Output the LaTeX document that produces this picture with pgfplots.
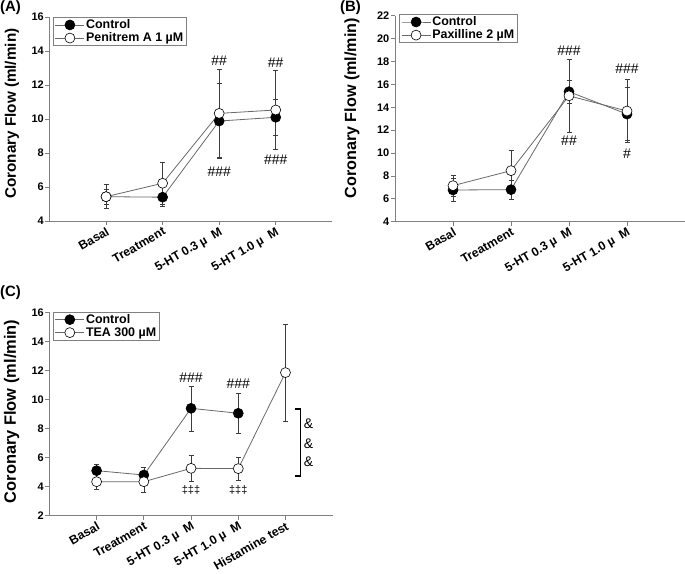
\documentclass[border=0pt]{standalone}
\usepackage{pgfplots}
\pgfplotsset{compat=1.18}
\usepackage{fontspec}
\setmainfont{Liberation Sans}
\definecolor{axgray}{RGB}{128,128,128}
\definecolor{lngray}{RGB}{105,105,105}
\definecolor{ebgray}{RGB}{60,60,60}
\newcommand{\fs}[1]{\fontsize{#1}{#1}\selectfont}
\newcommand{\lgf}{\fontsize{12.5}{12.5}\selectfont\bfseries}
\newcommand{\xlf}{\fontsize{12.3}{12.3}\selectfont\bfseries}
\newcommand{\ylf}{\fontsize{11}{11}\selectfont\bfseries}
\pgfplotsset{
  panel/.style={
    scale only axis,
    axis lines=left,
    axis line style={-, draw=axgray, line width=0.9bp},
    tick align=outside,
    major tick length=4bp,
    tick style={draw=axgray, line width=0.8bp},
    xmin=0,
    clip=false,
    /pgf/number format/assume math mode=true,
    yticklabel style={font=\ylf, inner sep=1.5bp},
    xticklabel style={font=\xlf, rotate=30, anchor=north east, inner sep=1bp},
    legend cell align=left,
    legend style={draw=axgray, line width=0.8bp, font=\lgf, fill=white,
      inner xsep=2bp, inner ysep=1bp, anchor=north west, row sep=0bp,
      nodes={inner sep=1.3bp}},
    legend image code/.code={\draw[mark repeat=2, mark phase=2, ##1] plot coordinates {(0bp,0bp) (14.5bp,0bp) (29bp,0bp)};},
    error bars/error bar style={draw=ebgray, line width=0.6bp},
    error bars/error mark options={rotate=90, mark size=2.5bp, draw=ebgray, line width=0.6bp},
  },
  ctrl/.style={draw=lngray, line width=0.8bp, mark=*, mark size=5bp,
    mark options={draw=black, fill=black, line width=0.6bp},
    error bars/.cd, y dir=both, y explicit},
  trt/.style={draw=lngray, line width=0.8bp, mark=*, mark size=5bp,
    mark options={draw=black, fill=white, line width=0.6bp},
    error bars/.cd, y dir=both, y explicit},
}
\begin{document}
\begin{tikzpicture}
\useasboundingbox (0bp,0bp) rectangle (685bp,574bp);

% ---------------- Panel A ----------------
\begin{axis}[panel,
  at={(49.5bp,353bp)}, anchor=south west,
  width=282.8bp, height=204bp,
  xmax=5, ymin=4, ymax=16, ytick={4,6,...,16},
  xtick={1,2,3,4},
  xticklabels={Basal, Treatment, {5-HT 0.3 µ\ \ M}, {5-HT 1.0 µ\ \ M}},
  legend style={at={(0.011,1.0)}},
]
\addplot[ctrl] coordinates {(1,5.43) +- (0,0.45) (2,5.40) +- (0,0.56) (3,9.88) +- (0,2.2) (4,10.10) +- (0,1.05)};
\addlegendentry{\lgf Control}
\addplot[trt] coordinates {(1,5.43) +- (0,0.70) (2,6.22) +- (0,1.21) (3,10.33) +- (0,2.6) (4,10.53) +- (0,2.33)};
\addlegendentry{\lgf Penitrem A 1 µM}
\node[font=\fs{14}] at (axis cs:3,13.4) {\#\#};
\node[font=\fs{14}] at (axis cs:3,6.9) {\#\#\#};
\node[font=\fs{14}] at (axis cs:4,13.3) {\#\#};
\node[font=\fs{14}] at (axis cs:4,7.63) {\#\#\#};
\end{axis}

% ---------------- Panel B ----------------
\begin{axis}[panel,
  at={(395bp,352.3bp)}, anchor=south west,
  width=290bp, height=206bp,
  xmax=5, ymin=4, ymax=22, ytick={4,6,...,22},
  xtick={1,2,3,4},
  xticklabels={Basal, Treatment, {5-HT 0.3 µ\ \ M}, {5-HT 1.0 µ\ \ M}},
  legend style={at={(0.013,1.008)}},
]
\addplot[ctrl] coordinates {(1,6.77) +- (0,1.02) (2,6.80) +- (0,0.82) (3,15.36) +- (0,1.0) (4,13.40) +- (0,2.3)};
\addlegendentry{\lgf Control}
\addplot[trt] coordinates {(1,7.15) +- (0,0.93) (2,8.46) +- (0,1.74) (3,15.0) +- (0,3.2) (4,13.67) +- (0,2.77)};
\addlegendentry{\lgf Paxilline 2 µM}
\node[font=\fs{14}] at (axis cs:3,18.9) {\#\#\#};
\node[font=\fs{14}] at (axis cs:3,11.1) {\#\#};
\node[font=\fs{14}] at (axis cs:4,17.4) {\#\#\#};
\node[font=\fs{14}] at (axis cs:4,9.97) {\#};
\end{axis}

% ---------------- Panel C ----------------
\begin{axis}[panel,
  at={(49.4bp,58.3bp)}, anchor=south west,
  width=283.3bp, height=203.4bp,
  xmax=6, ymin=2, ymax=16, ytick={2,4,...,16},
  xtick={1,2,3,4,5},
  xticklabels={Basal, Treatment, {5-HT 0.3 µ\ \ M}, {5-HT 1.0 µ\ \ M}, Histamine test},
  legend style={at={(0.011,1.003)}},
]
\addplot[ctrl] coordinates {(1,5.10) +- (0,0.46) (2,4.80) +- (0,0.5) (3,9.39) +- (0,1.55) (4,9.05) +- (0,1.35)};
\addlegendentry{\lgf Control}
\addplot[trt] coordinates {(1,4.34) +- (0,0.5) (2,4.34) +- (0,0.74) (3,5.26) +- (0,0.87) (4,5.24) +- (0,0.77) (5,11.85) +- (0,3.35)};
\addlegendentry{\lgf TEA 300 µM}
\node[font=\fs{14}] at (axis cs:3,11.5) {\#\#\#};
\node[font=\fs{14}] at (axis cs:4,11.1) {\#\#\#};
\node[font=\fs{11}] at (axis cs:3,3.77) {‡‡‡};
\node[font=\fs{11}] at (axis cs:4,3.77) {‡‡‡};
\draw[black, line width=1.5bp] (axis cs:5.2,9.34) -- (axis cs:5.32,9.34) -- (axis cs:5.32,4.73) -- (axis cs:5.2,4.73);
\node[font=\fs{14}] at (axis cs:5.49,8.36) {\&};
\node[font=\fs{14}] at (axis cs:5.49,6.98) {\&};
\node[font=\fs{14}] at (axis cs:5.49,5.72) {\&};
\end{axis}

% y-axis titles
\node[rotate=90, inner sep=0pt, font=\fs{15.3}\bfseries] at (12bp,460.3bp) {Coronary Flow (ml/min)};
\node[rotate=90, inner sep=0pt, font=\fs{16.2}\bfseries] at (352bp,465.7bp) {Coronary Flow (ml/min)};
\node[rotate=90, inner sep=0pt, font=\fs{16.5}\bfseries] at (11.7bp,162.5bp) {Coronary Flow (ml/min)};

% panel labels
\node[anchor=north west, inner sep=0pt, font=\fs{15}\bfseries] at (0bp,574bp) {(A)};
\node[anchor=north west, inner sep=0pt, font=\fs{15}\bfseries] at (340bp,574bp) {(B)};
\node[anchor=north west, inner sep=0pt, font=\fs{15}\bfseries] at (0bp,289bp) {(C)};
\end{tikzpicture}
\end{document}
